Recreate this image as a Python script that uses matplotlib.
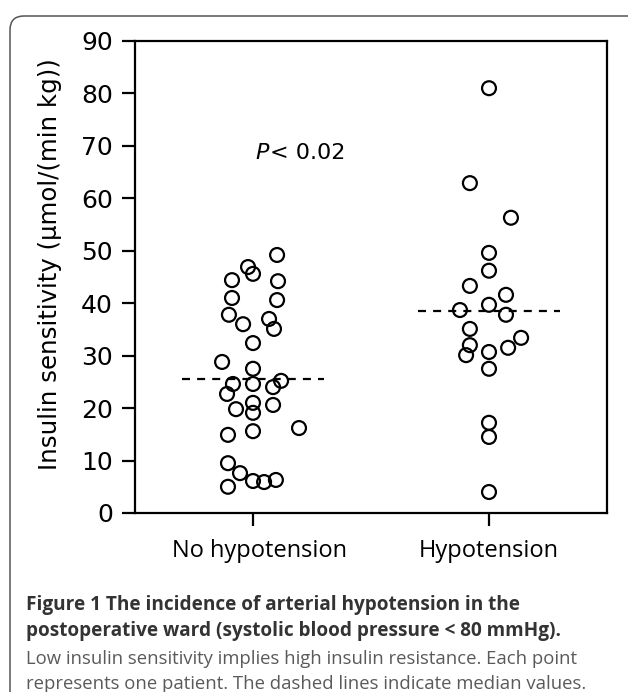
import matplotlib
matplotlib.use('Agg')
import matplotlib.pyplot as plt
import matplotlib.transforms as mtransforms
from matplotlib.patches import FancyBboxPatch

# ---------------- data ----------------
categories = ['No hypotension', 'Hypotension']

no_hypo_values = [49.2, 46.9, 45.6, 44.4, 44.2, 41.0, 40.6, 37.8, 37.0, 36.0,
                  35.1, 32.4, 28.8, 27.5, 25.2, 24.6, 24.6, 24.0, 22.7, 21.0,
                  20.6, 19.8, 19.1, 16.2, 15.6, 14.9, 9.5, 7.6, 6.1, 5.9,
                  6.3, 5.0]
no_hypo_jitter = [0.102, -0.021, 0.0, -0.089, 0.106, -0.089, 0.102, -0.102, 0.068, -0.042,
                  0.089, 0.0, -0.131, 0.0, 0.119, -0.085, 0.0, 0.085, -0.110, 0.0,
                  0.085, -0.072, 0.0, 0.195, 0.0, -0.106, -0.106, -0.055, 0.0, 0.047,
                  0.097, -0.106]

hypo_values = [81.0, 62.9, 56.3, 49.6, 46.2, 43.3, 41.6, 38.7, 39.7, 37.8,
               35.1, 32.0, 30.1, 33.4, 31.5, 30.7, 27.5, 17.2, 14.5, 4.0]
hypo_jitter = [0.0, -0.081, 0.093, 0.0, 0.0, -0.081, 0.072, -0.123, 0.0, 0.072,
               -0.081, -0.081, -0.097, 0.136, 0.081, 0.0, 0.0, 0.0, 0.0, 0.0]

medians = [25.6, 38.5]
yticks = [0, 10, 20, 30, 40, 50, 60, 70, 80, 90]
ylabel = 'Insulin sensitivity (µmol/(min kg))'
p_label = 'P'
p_rest = '< 0.02'
p_value_pos = (0.01, 68.6)

caption_bold = ['Figure 1 The incidence of arterial hypotension in the',
                'postoperative ward (systolic blood pressure < 80 mmHg).']
caption_plain = ['Low insulin sensitivity implies high insulin resistance. Each point',
                 'represents one patient. The dashed lines indicate median values.']

# ---------------- figure ----------------
W, H = 628, 692
fig = plt.figure(figsize=(W / 100, H / 100), dpi=100)
renderer = fig.canvas.get_renderer()

# rounded frame around the figure
frame = FancyBboxPatch((0.10, -0.30), 6.60, 7.06,
                       boxstyle='round,pad=0,rounding_size=0.14',
                       transform=fig.dpi_scale_trans, facecolor='none',
                       edgecolor='#555555', linewidth=1.1)
fig.add_artist(frame)

ax = fig.add_axes([135 / W, 1 - 513 / H, 472 / W, 472 / H])

groups = [(no_hypo_values, no_hypo_jitter), (hypo_values, hypo_jitter)]
for i, (vals, jit) in enumerate(groups):
    xs = [i + j for j in jit]
    ax.scatter(xs, vals, s=100, facecolors='none', edgecolors='black',
               linewidths=1.6, zorder=3, clip_on=False)
    ax.plot([i - 0.3, i + 0.3], [medians[i], medians[i]], color='black',
            lw=1.6, ls=(0, (3.6, 3.2)), zorder=2)

ax.set_xlim(-0.5, 1.5)
ax.set_ylim(0, 90)
ax.set_yticks(yticks)
ax.set_xticks(range(len(categories)))
ax.set_xticklabels(categories)
for s in ax.spines.values():
    s.set_linewidth(1.6)
ax.tick_params(direction='out', length=9.5, width=1.6, colors='black')
ax.tick_params(axis='y', labelsize=18, pad=6.5)
ax.tick_params(axis='x', labelsize=17, pad=9)
for lab in ax.get_yticklabels():
    lab.set_family('DejaVu Sans')
xlabs = ax.get_xticklabels()
for lab in xlabs:
    lab.set_family('Open Sans')
# first category label sits slightly right of its tick in the reference
xlabs[0].set_transform(xlabs[0].get_transform() +
                       mtransforms.ScaledTranslation(0.07, 0, fig.dpi_scale_trans))

# P value annotation
t_p = ax.text(p_value_pos[0], p_value_pos[1], p_label, fontsize=16,
              style='italic', family='DejaVu Sans', va='center', ha='left')
fig.canvas.draw()
bb = t_p.get_window_extent(renderer)
x_after = ax.transData.inverted().transform((bb.x1 + 1, 0))[0]
ax.text(x_after, p_value_pos[1], p_rest, fontsize=16, family='DejaVu Sans',
        va='center', ha='left')


def fit(t, target_px, use_height=False):
    ext = t.get_window_extent(renderer)
    w = ext.height if use_height else ext.width
    t.set_fontsize(t.get_fontsize() * target_px / w)
    return t.get_fontsize()


# y label
yl = fig.text(50 / W, 1 - 264 / H, ylabel, rotation=90, fontsize=16,
              family='DejaVu Sans', ha='center', va='center')
fit(yl, 412, use_height=True)

# caption
x0 = 26 / W
ys = [605, 631, 659, 684]
tb1 = fig.text(x0, 1 - ys[0] / H, caption_bold[0], fontsize=13, weight='bold',
               family='Open Sans', color='#333333', va='center', ha='left')
fs_b = fit(tb1, 490)
tb2 = fig.text(x0, 1 - ys[1] / H, caption_bold[1], fontsize=fs_b, weight='bold',
               family='Open Sans', color='#333333', va='center', ha='left')
tp1 = fig.text(x0, 1 - ys[2] / H, caption_plain[0], fontsize=13,
               family='Open Sans', color='#5a5a5a', va='center', ha='left')
fs_p = fit(tp1, 548)
fig.text(x0, 1 - ys[3] / H, caption_plain[1], fontsize=fs_p,
         family='Open Sans', color='#5a5a5a', va='center', ha='left')

fig.savefig('out.png', dpi=100)
